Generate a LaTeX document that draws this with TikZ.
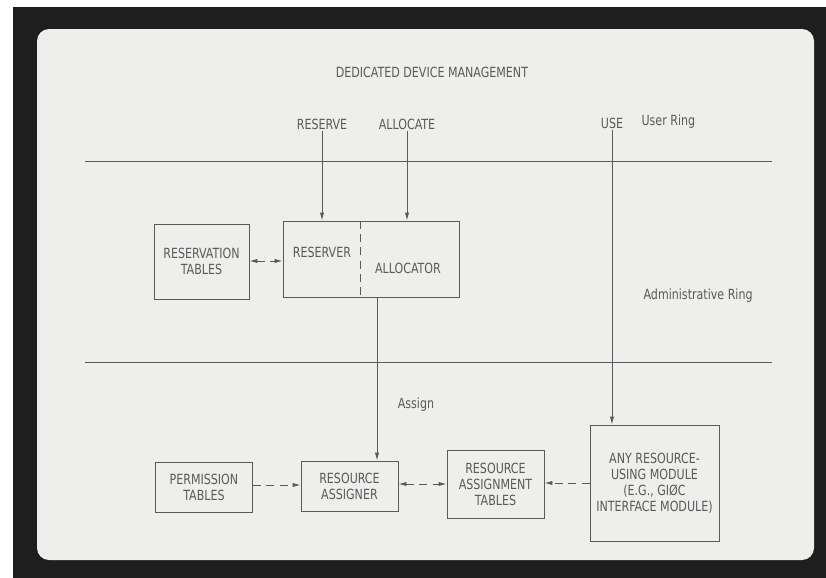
\documentclass[tikz,border=0pt]{standalone}
\usepackage{fontspec}
\setmainfont{DejaVu Sans Condensed}[FakeStretch=0.88]
\usetikzlibrary{arrows.meta,positioning,calc}
\definecolor{Frame}{HTML}{1E1E1E}
\definecolor{Slide}{HTML}{EEEEEC}
\definecolor{Ink}{HTML}{5A5A5A}
\newcommand\pxu{*0.75pt}

\begin{document}
\begin{tikzpicture}[x=0.75pt,y=-0.75pt,>={Latex[length=6pt,width=3.2pt]},
  lbl/.style={font=\fontsize{10.5}{11.5}\selectfont,text=Ink,inner sep=1pt},
  blk/.style={draw=Ink,line width=0.7pt,font=\fontsize{10.5}{12}\selectfont,text=Ink,align=center,inner sep=0pt},
  link/.style={Ink,line width=0.7pt},
  dlink/.style={Ink,line width=0.7pt,dash pattern=on 6pt off 4pt}]
% slide frame
\useasboundingbox (0,0) rectangle (826,578);
\fill[white] (0,0) rectangle (826,578);
\fill[Frame] (13,7) rectangle (826,578);
\fill[Slide,rounded corners=9pt] (37,29) rectangle (814,560);
% ring boundaries
\draw[link] (85,161) -- (772,161);
\draw[link] (85,362) -- (772,362);
% labels
\node[lbl] (title) at (432,72) {DEDICATED DEVICE MANAGEMENT};
\node[lbl] (lreserve) at (322,124) {RESERVE};
\node[lbl] (lallocate) at (407,124) {ALLOCATE};
\node[lbl] (luse) at (612,123) {USE};
\node[lbl,anchor=west] (luserring) at (640,122) {User Ring};
\node[lbl,anchor=west] (ladmin) at (642,296) {Administrative Ring};
% upper blocks
\node[blk,minimum width=95\pxu,minimum height=75\pxu] (restab) at (201.5,261.5) {RESERVATION\\TABLES};
\node[blk,minimum width=176\pxu,minimum height=76\pxu] (resalloc) at (371,259) {};
\node[lbl] (reserver) at (322,252) {RESERVER};
\node[lbl] (allocator) at (408,268) {ALLOCATOR};
\draw[dlink] (resalloc.north -| 360,0) -- (resalloc.south -| 360,0);
% lower blocks
\node[blk,minimum width=97\pxu,minimum height=50\pxu] (permtab) at (204,487) {PERMISSION\\TABLES};
\node[blk,minimum width=97\pxu,minimum height=50\pxu] (assigner) at (349.5,486) {RESOURCE\\ASSIGNER};
\node[blk,minimum width=97\pxu,minimum height=68\pxu] (asgtab) at (495.5,484) {RESOURCE\\ASSIGNMENT\\TABLES};
\node[blk,minimum width=129\pxu,minimum height=116\pxu] (anymod) at (654.5,483) {ANY RESOURCE-\\USING MODULE\\(E.G., GI\O C\\INTERFACE MODULE)};
% calls
\draw[link,->] (lreserve.south) -- (lreserve.south |- resalloc.north);
\draw[link,->] (lallocate.south) -- (lallocate.south |- resalloc.north);
\draw[link,->] (luse.south) -- (luse.south |- anymod.north);
\coordinate (assignout) at ($(resalloc.south)+(6,0)$);
\draw[link,->] (assignout) -- (assignout |- assigner.north);
\node[lbl] (lassign) at (416,405) {Assign};
% table access
\draw[dlink,<->] (restab.east |- 0,261) -- (resalloc.west |- 0,261);
\draw[dlink,->] (permtab.east |- 0,485) -- (assigner.west |- 0,485);
\draw[dlink,<->] (assigner.east |- 0,484) -- (asgtab.west |- 0,484);
\draw[dlink,->] (anymod.west |- 0,483) -- (asgtab.east |- 0,483);
\end{tikzpicture}
\end{document}
